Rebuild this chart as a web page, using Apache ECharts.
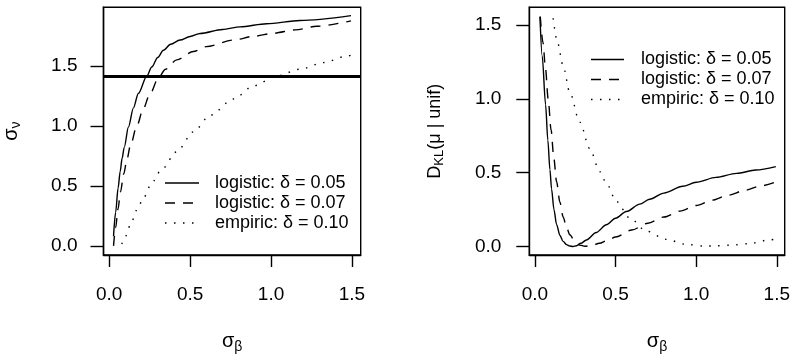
<!DOCTYPE html>
<html><head><meta charset="utf-8">
<script src="https://cdn.jsdelivr.net/npm/echarts@6/dist/echarts.min.js"></script>
<style>html,body{margin:0;padding:0;background:#fff}#c{width:793px;height:359px}</style>
</head><body><div id="c"></div><script>
// ---- tick labels ----
const xTicks = [0, 0.5, 1.0, 1.5];
const yTicksLeft = [0, 0.5, 1.0, 1.5];
const yTicksRight = [0, 0.5, 1.0, 1.5];
const legendLabels = ['logistic: \u03b4 = 0.05', 'logistic: \u03b4 = 0.07', 'empiric: \u03b4 = 0.10'];
const refLevel = 1.414;

// ---- left panel: sigma_nu vs sigma_beta ----
const nuLog05X = [0.027,0.04,0.055,0.068,0.08,0.093,0.119,0.15,0.18,0.233,0.263,0.30,0.335,0.38,0.438,0.5,0.562,0.7,0.809,0.973,1.179,1.494];
const nuLog05Y = [0.08,0.28,0.48,0.62,0.73,0.82,0.99,1.15,1.27,1.416,1.49,1.57,1.63,1.68,1.715,1.745,1.770,1.803,1.825,1.851,1.878,1.919];
const nuLog07X = [0.027,0.04,0.055,0.07,0.09,0.11,0.13,0.171,0.21,0.25,0.305,0.346,0.418,0.52,0.6,0.767,0.9,1.014,1.15,1.282,1.494];
const nuLog07Y = [0.00,0.15,0.31,0.45,0.60,0.72,0.83,1.00,1.14,1.26,1.40,1.47,1.55,1.62,1.66,1.715,1.748,1.772,1.80,1.83,1.875];
const nuEmpX = [0.078,0.10,0.14,0.175,0.212,0.263,0.315,0.418,0.52,0.623,0.767,0.894,1.035,1.179,1.323,1.467,1.5];
const nuEmpY = [0.015,0.08,0.207,0.31,0.40,0.523,0.62,0.785,0.95,1.087,1.224,1.334,1.416,1.472,1.527,1.581,1.59];

// ---- right panel: D_KL(mu | unif) vs sigma_beta ----
const klLog05X = [0.031,0.045,0.066,0.08,0.093,0.103,0.118,0.134,0.155,0.175,0.196,0.216,0.236,0.258,0.285,0.319,0.38,0.443,0.5,0.567,0.65,0.711,0.8,0.917,1.0,1.123,1.25,1.37,1.494];
const klLog05Y = [1.556,1.29,0.96,0.72,0.52,0.39,0.25,0.15,0.075,0.035,0.013,0.004,0.001,0.006,0.022,0.045,0.095,0.148,0.192,0.237,0.287,0.32,0.362,0.408,0.435,0.468,0.495,0.518,0.541];
const klLog07X = [0.033,0.05,0.065,0.082,0.10,0.117,0.134,0.155,0.175,0.196,0.216,0.25,0.278,0.31,0.35,0.40,0.45,0.5,0.6,0.7,0.8,0.9,1.0,1.1,1.2,1.3,1.4,1.5];
const klLog07Y = [1.556,1.38,1.21,1.00,0.79,0.60,0.44,0.30,0.20,0.13,0.08,0.03,0.01,0.002,0.006,0.022,0.042,0.065,0.112,0.158,0.20,0.24,0.278,0.314,0.348,0.38,0.41,0.44];
const klEmpX = [0.113,0.14,0.175,0.216,0.278,0.34,0.402,0.443,0.505,0.587,0.69,0.814,0.938,1.05,1.123,1.25,1.329,1.452,1.494];
const klEmpY = [1.545,1.38,1.221,1.043,0.842,0.663,0.507,0.429,0.306,0.194,0.105,0.049,0.015,0.003,0.005,0.012,0.02,0.045,0.05];

const FONT = "'Liberation Sans', Arial, Helvetica, sans-serif";
const pairs = (xs, ys) => xs.map((x, i) => [x, ys[i]]);

const styles = [
  {type: 'solid', dash: null},
  {type: [10, 8], dash: [10, 8]},
  {type: [1.5, 7.5], dash: [1.5, 7.5]}
];
const LW = 1.4;
const TICKC = '#000';

function xAxisDef(gi, min, max) {
  return {
    type: 'value', gridIndex: gi, min: min, max: max, position: 'bottom',
    axisLine: {show: true, onZero: false, lineStyle: {color: '#000', width: LW}},
    splitLine: {show: false},
    axisTick: {show: true, inside: false, length: 12, customValues: xTicks, lineStyle: {color: TICKC, width: LW}},
    axisLabel: {show: true, customValues: xTicks, formatter: v => v.toFixed(1), fontFamily: FONT, fontSize: 19, color: '#000', margin: 30},
    name: '{a|\u03c3}{b|\u03b2}', nameLocation: 'middle', nameGap: 74,
    nameTextStyle: {fontFamily: FONT, color: '#000', rich: {
      a: {fontFamily: FONT, fontSize: 20, color: '#000'},
      b: {fontFamily: FONT, fontSize: 14, color: '#000', padding: [11, 0, 0, 0]}
    }}
  };
}
function yAxisDef(gi, min, max, ticks, name, gap, rich, margin) {
  return {
    type: 'value', gridIndex: gi, min: min, max: max, position: 'left',
    axisLine: {show: true, onZero: false, lineStyle: {color: '#000', width: LW}},
    splitLine: {show: false},
    axisTick: {show: true, inside: false, length: 13, customValues: ticks, lineStyle: {color: TICKC, width: LW}},
    axisLabel: {show: true, customValues: ticks, formatter: v => v.toFixed(1), fontFamily: FONT, fontSize: 19, color: '#000', margin: margin},
    name: name, nameLocation: 'middle', nameGap: gap, nameRotate: 90,
    nameTextStyle: {fontFamily: FONT, color: '#000', rich: rich}
  };
}

function lineSeries(xi, yi, data, k, name) {
  return {
    type: 'line', name: name, xAxisIndex: xi, yAxisIndex: yi, data: data,
    showSymbol: false, symbol: 'none', smooth: 0.3, smoothMonotone: 'x',
    lineStyle: {color: '#000', width: LW, type: styles[k].type},
    silent: true, animation: false
  };
}

function legendGraphic(x1, x2, tx, ys) {
  const els = [];
  ys.forEach((y, k) => {
    els.push({type: 'line', shape: {x1: x1, y1: y, x2: x2, y2: y},
      style: {stroke: '#000', lineWidth: LW, lineDash: styles[k].dash}, silent: true});
    els.push({type: 'text', x: tx, y: y, style: {text: legendLabels[k], fill: '#000',
      font: '18px ' + FONT, verticalAlign: 'middle', align: 'left'}, silent: true});
  });
  return els;
}

const chart = echarts.init(document.getElementById('c'), null, {renderer: 'canvas'});
chart.setOption({
  animation: false,
  backgroundColor: '#fff',
  grid: [
    {left: 103.3, top: 7.3, width: 257.4, height: 250.4, show: true, borderColor: '#000', borderWidth: LW, backgroundColor: 'transparent'},
    {left: 529.3, top: 7.3, width: 256.4, height: 250.4, show: true, borderColor: '#000', borderWidth: LW, backgroundColor: 'transparent'}
  ],
  xAxis: [xAxisDef(0, -0.035, 1.554), xAxisDef(1, -0.035, 1.549)],
  yAxis: [
    yAxisDef(0, -0.076, 1.988, yTicksLeft, '{a|\u03c3}{b|\u03bd}', 80, {
      a: {fontFamily: FONT, fontSize: 20, color: '#000'},
      b: {fontFamily: FONT, fontSize: 14, color: '#000', padding: [11, 0, 0, 0]}
    }, 26),
    yAxisDef(1, -0.057, 1.619, yTicksRight, '{a|D}{b|KL}{a|(\u03bc | unif)}', 83.3, {
      a: {fontFamily: FONT, fontSize: 18, color: '#000'},
      b: {fontFamily: FONT, fontSize: 13, color: '#000', padding: [9, 0, 0, 0]}
    }, 28)
  ],
  series: [
    lineSeries(0, 0, pairs(nuLog05X, nuLog05Y), 0, legendLabels[0]),
    lineSeries(0, 0, pairs(nuLog07X, nuLog07Y), 1, legendLabels[1]),
    lineSeries(0, 0, pairs(nuEmpX, nuEmpY), 2, legendLabels[2]),
    {
      type: 'line', xAxisIndex: 0, yAxisIndex: 0, data: [], silent: true,
      markLine: {silent: true, symbol: ['none', 'none'], label: {show: false},
        lineStyle: {color: '#000', width: 3, type: 'solid'},
        data: [{yAxis: refLevel}], animation: false}
    },
    lineSeries(1, 1, pairs(klLog05X, klLog05Y), 0, legendLabels[0]),
    lineSeries(1, 1, pairs(klLog07X, klLog07Y), 1, legendLabels[1]),
    lineSeries(1, 1, pairs(klEmpX, klEmpY), 2, legendLabels[2])
  ],
  graphic: [].concat(
    legendGraphic(165, 199, 215, [183, 203, 223]),
    legendGraphic(591, 624, 641, [59.5, 79.5, 99.5])
  )
});
</script></body></html>
